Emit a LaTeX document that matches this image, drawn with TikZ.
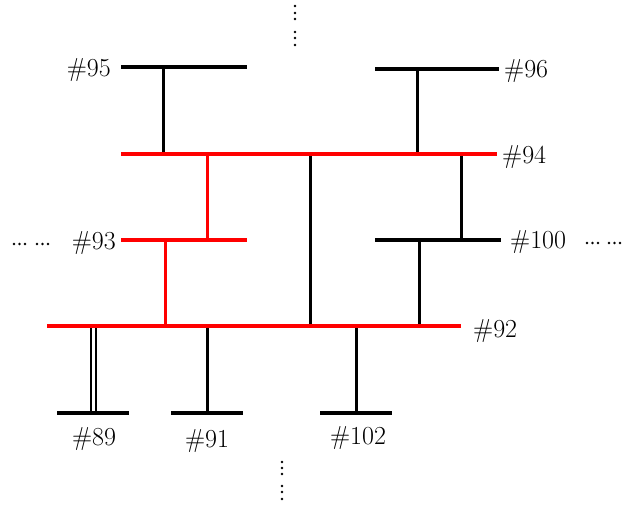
\documentclass[tikz,border=0pt]{standalone}
\definecolor{busred}{RGB}{255,0,0}
\begin{document}
\begin{tikzpicture}[x=1pt,y=-1pt,
  bus/.style={line width=3.2pt,black},
  redbus/.style={line width=3.2pt,busred},
  link/.style={line width=3pt,black},
  redlink/.style={line width=3pt,busred},
  thin link/.style={line width=2pt,black},
  lab/.style={inner sep=0pt,font=\fontsize{26}{30}\selectfont},
  dot/.style={circle,fill=black,inner sep=0pt,minimum size=2.8pt}]
\useasboundingbox (0,0) rectangle (624,504);
% bus end points
\coordinate (b95a) at (121,67);  \coordinate (b95b) at (247,67);
\coordinate (b96a) at (375,69);  \coordinate (b96b) at (499,69);
\coordinate (b94a) at (121,154); \coordinate (b94b) at (497,154);
\coordinate (b93a) at (121,240); \coordinate (b93b) at (247,240);
\coordinate (b100a) at (375,240); \coordinate (b100b) at (501,240);
\coordinate (b92a) at (47,326);  \coordinate (b92b) at (461,326);
\coordinate (b89a) at (57,413);  \coordinate (b89b) at (129,413);
\coordinate (b91a) at (171,413); \coordinate (b91b) at (243,413);
\coordinate (b102a) at (320,413); \coordinate (b102b) at (392,413);
% connectors
\draw[link] (163,0 |- b95a) -- (163,0 |- b94a);
\draw[link] (417,0 |- b96a) -- (417,0 |- b94a);
\draw[redlink] (207,0 |- b94a) -- (207,0 |- b93a);
\draw[link] (310,0 |- b94a) -- (310,0 |- b92a);
\draw[link] (461,0 |- b94a) -- (461,0 |- b100a);
\draw[redlink] (165,0 |- b93a) -- (165,0 |- b92a);
\draw[link] (419,0 |- b100a) -- (419,0 |- b92a);
\draw[thin link] (90.5,0 |- b92a) -- (90.5,0 |- b89a);
\draw[thin link] (96,0 |- b92a) -- (96,0 |- b89a);
\draw[link] (207,0 |- b92a) -- (207,0 |- b91a);
\draw[link] (356,0 |- b92a) -- (356,0 |- b102a);
% buses
\draw[bus] (b95a) -- (b95b);
\draw[bus] (b96a) -- (b96b);
\draw[redbus] (b94a) -- (b94b);
\draw[redbus] (b93a) -- (b93b);
\draw[bus] (b100a) -- (b100b);
\draw[redbus] (b92a) -- (b92b);
\draw[bus] (b89a) -- (b89b);
\draw[bus] (b91a) -- (b91b);
\draw[bus] (b102a) -- (b102b);
% labels
\node[lab,anchor=base east] (l95) at (111,76) {\#95};
\node[lab,anchor=base west] (l96) at (504,77) {\#96};
\node[lab,anchor=base west] (l94) at (502,163) {\#94};
\node[lab,anchor=base east] (l93) at (116,249) {\#93};
\node[lab,anchor=base west] (l100) at (510,248) {\#100};
\node[lab,anchor=base west] (l92) at (473,337) {\#92};
\node[lab,anchor=base] (l89) at (94,445) {\#89};
\node[lab,anchor=base] (l91) at (207,447) {\#91};
\node[lab,anchor=base] (l102) at (358,444) {\#102};
% continuation dots
\foreach \y [count=\i] in {6,13,19,32,38,45} \node[dot] (t\i) at (295,\y) {};
\foreach \y [count=\i] in {462,468,474,486,492,499} \node[dot] (d\i) at (282,\y) {};
\foreach \x [count=\i] in {14,19.5,25,37,42.5,48} \node[dot] (el\i) at (\x,244) {};
\foreach \x [count=\i] in {587,592.5,598,609,614.5,620} \node[dot] (er\i) at (\x,243) {};
\end{tikzpicture}
\end{document}
